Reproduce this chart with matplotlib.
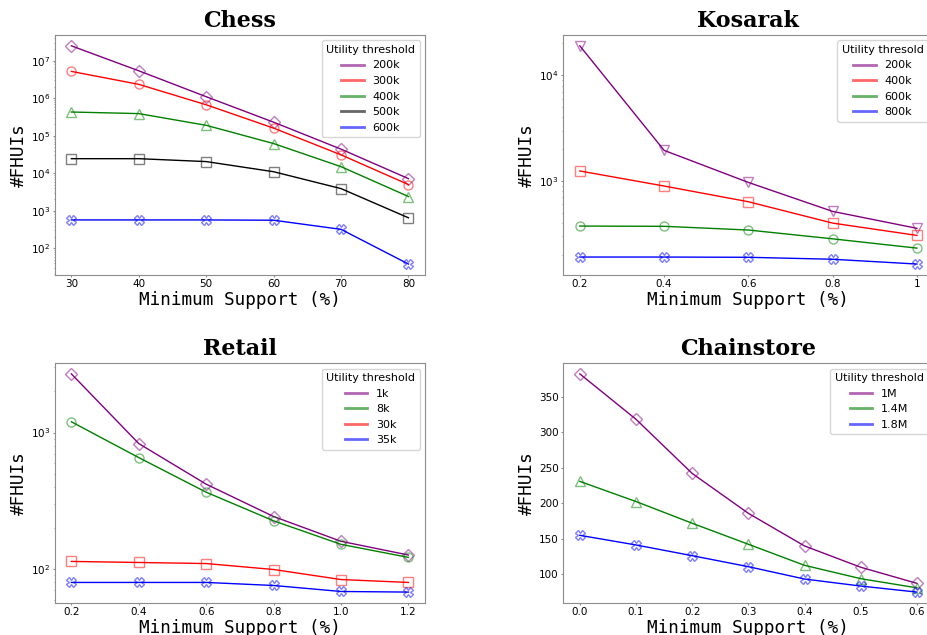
import matplotlib
matplotlib.use("Agg")
import matplotlib.pyplot as plt
from matplotlib.colors import to_rgba
from matplotlib.lines import Line2D

# Chess
chess_x = [30, 40, 50, 60, 70, 80]
chess_labels = ['200k', '300k', '400k', '500k', '600k']
chess_200k = [2.5e7, 5.4e6, 1.1e6, 2.3e5, 4.4e4, 7.2e3]
chess_300k = [5.2e6, 2.35e6, 6.7e5, 1.6e5, 3.1e4, 5.0e3]
chess_400k = [4.3e5, 3.9e5, 1.9e5, 6.2e4, 1.5e4, 2.4e3]
chess_500k = [2.45e4, 2.45e4, 2.05e4, 1.1e4, 3.9e3, 650]
chess_600k = [570, 570, 570, 560, 320, 38]

# Kosarak
kosarak_x = [0.2, 0.4, 0.6, 0.8, 1]
kosarak_ticklabels = ['0.2', '0.4', '0.6', '0.8', '1']
kosarak_labels = ['200k', '400k', '600k', '800k']
kosarak_200k = [1.9e4, 1950, 970, 516, 357]
kosarak_400k = [1245, 897, 637, 400, 306]
kosarak_600k = [375, 373, 344, 284, 232]
kosarak_800k = [191, 191, 190, 182, 164]

# Retail
retail_x = [0.2, 0.4, 0.6, 0.8, 1.0, 1.2]
retail_labels = ['1k', '8k', '30k', '35k']
retail_1k = [2690, 831, 419, 243, 160, 127]
retail_8k = [1200, 656, 366, 226, 152, 122]
retail_30k = [114, 112, 110, 99.5, 84, 80]
retail_35k = [80, 80, 80, 76, 68.7, 68]

# Chainstore
chain_x = [0.0, 0.1, 0.2, 0.3, 0.4, 0.5, 0.6]
chain_labels = ['1M', '1.4M', '1.8M']
chain_1m = [382.5, 318.5, 242.2, 186, 140, 110, 87.3]
chain_14m = [231, 202.6, 172, 142.4, 112.7, 93.9, 81]
chain_18m = [155, 141.4, 126.3, 110.8, 93.4, 83.5, 75]


def draw(ax, x, series, labels, colors, markers, title, legend_title, log=True):
    for y, lab, c, m in zip(series, labels, colors, markers):
        ax.plot(x, y, color=c, lw=1, marker=m, ms=6.5,
                mfc='none', mec=to_rgba(c, 0.5), mew=1)
    if log:
        ax.set_yscale('log')
    handles = [Line2D([], [], color=c, alpha=0.6, lw=2) for c in colors]
    ax.legend(handles, labels, title=legend_title, loc='upper right',
              fontsize=8, title_fontsize=8)
    ax.set_title(title, fontsize=16, fontweight='bold', family='DejaVu Serif')
    ax.set_xlabel('Minimum Support (%)', fontsize=12.7, family='DejaVu Sans Mono',
                  labelpad=1)
    ax.set_ylabel('#FHUIs', fontsize=12.7, family='DejaVu Sans Mono')
    ax.yaxis.set_label_coords(-0.073, 0.5)
    ax.tick_params(axis='both', which='major', labelsize=7.5, length=1.5, pad=1.5,
                   color='0.55')
    ax.tick_params(axis='both', which='minor', length=1, color='0.55')
    for s in ax.spines.values():
        s.set_color('0.55')


fig = plt.figure(figsize=(9.27, 6.35), dpi=100)
ax1 = fig.add_axes([0.0588, 0.567, 0.4, 0.378])
ax2 = fig.add_axes([0.6073, 0.567, 0.4, 0.378])
ax3 = fig.add_axes([0.0588, 0.0504, 0.4, 0.378])
ax4 = fig.add_axes([0.6073, 0.0504, 0.4, 0.378])

draw(ax1, chess_x, [chess_200k, chess_300k, chess_400k, chess_500k, chess_600k],
     chess_labels, ['purple', 'red', 'green', 'black', 'blue'],
     ['D', 'o', '^', 's', 'X'], 'Chess', 'Utility threshold')
ax1.set_xticks(chess_x)

draw(ax2, kosarak_x, [kosarak_200k, kosarak_400k, kosarak_600k, kosarak_800k],
     kosarak_labels, ['purple', 'red', 'green', 'blue'],
     ['v', 's', 'o', 'X'], 'Kosarak', 'Utility thresold')
ax2.set_xticks(kosarak_x)
ax2.set_xticklabels(kosarak_ticklabels)

draw(ax3, retail_x, [retail_1k, retail_8k, retail_30k, retail_35k],
     retail_labels, ['purple', 'green', 'red', 'blue'],
     ['D', 'o', 's', 'X'], 'Retail', 'Utility threshold')
ax3.set_xticks(retail_x)

draw(ax4, chain_x, [chain_1m, chain_14m, chain_18m],
     chain_labels, ['purple', 'green', 'blue'],
     ['D', '^', 'X'], 'Chainstore', 'Utility threshold', log=False)
ax4.set_xticks(chain_x)

plt.savefig('out.png', dpi=100)
